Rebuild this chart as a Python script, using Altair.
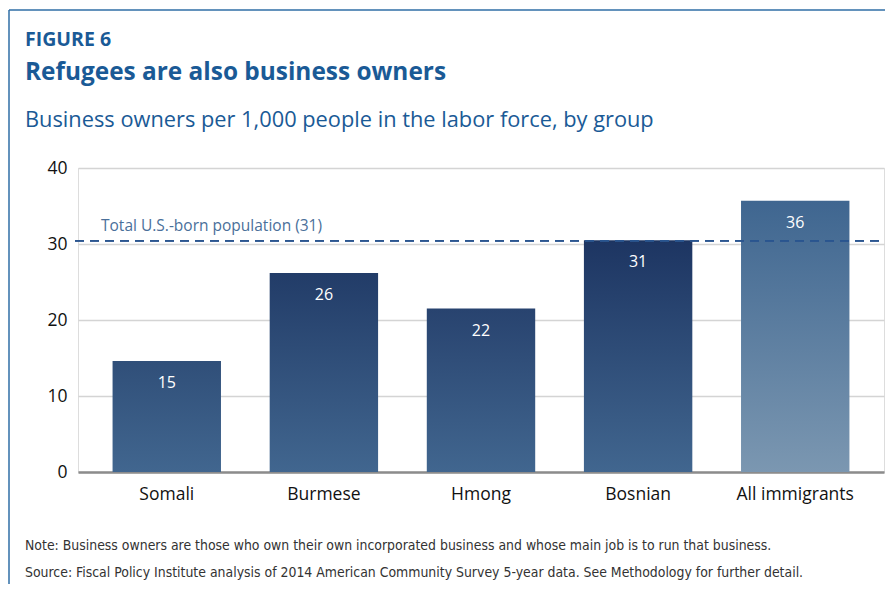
import altair as alt
import pandas as pd

# ---- data ----
groups = ["Somali", "Burmese", "Hmong", "Bosnian", "All immigrants"]
values = [14.6, 26.2, 21.5, 30.5, 35.7]
value_labels = ["15", "26", "22", "31", "36"]
us_born_value = 30.4
us_born_label = "Total U.S.-born population (31)"
y_ticks = [0, 10, 20, 30, 40]

fig_label = "FIGURE 6"
title = "Refugees are also business owners"
subtitle = "Business owners per 1,000 people in the labor force, by group"
notes = [
    "Note: Business owners are those who own their own incorporated business and whose main job is to run that business.",
    "Source: Fiscal Policy Institute analysis of 2014 American Community Survey 5-year data. See Methodology for further detail.",
]

# ---- styles ----
FONT = "Open Sans"
NOTE_FONT = "Liberation Sans Narrow, DejaVu Sans Condensed"
BLUE = "#1a5a96"
W, H = 806, 304


def lerp_hex(c1, c2, t):
    a = [int(c1[i:i + 2], 16) for i in (1, 3, 5)]
    b = [int(c2[i:i + 2], 16) for i in (1, 3, 5)]
    return "#" + "".join(f"{round(x + (y - x) * t):02x}" for x, y in zip(a, b))


REF_BOTTOM, REF_TOP, REF_TOP_VAL = "#41668f", "#1d3562", 30.5

df = pd.DataFrame({"group": groups, "value": values, "label": value_labels})

xscale = alt.Scale(domain=groups, paddingInner=0.31, paddingOuter=0.22)
yscale = alt.Scale(domain=[0, 40], nice=False)

xax = alt.Axis(title=None, labelFont=FONT, labelFontSize=17.5, labelColor="#111111",
               labelPadding=13, ticks=False, domainColor="#8c8c8c", domainWidth=2.5,
               labelAngle=0, grid=False)
yax = alt.Axis(title=None, values=y_ticks, labelFont=FONT, labelFontSize=17.5,
               labelColor="#111111", labelPadding=11, ticks=False, domain=False,
               gridColor="#d4d4d4", gridWidth=1.3)

X = alt.X("group:N", scale=xscale, axis=xax, sort=groups)
Y = alt.Y("value:Q", scale=yscale, axis=yax)

layers = []
for i, g in enumerate(groups):
    if g == "All immigrants":
        top, bottom = "#3f6690", "#7b97b1"
    else:
        top = lerp_hex(REF_BOTTOM, REF_TOP, min(values[i] / REF_TOP_VAL, 1.0))
        bottom = REF_BOTTOM
    grad = alt.LinearGradient(
        gradient="linear", x1=0, y1=0, x2=0, y2=1,
        stops=[alt.GradientStop(color=top, offset=0),
               alt.GradientStop(color=bottom, offset=1)],
    )
    layers.append(
        alt.Chart(df).transform_filter(alt.datum.group == g).mark_bar(color=grad).encode(x=X, y=Y)
    )

value_text = alt.Chart(df).mark_text(
    font=FONT, fontSize=16, color="white", baseline="middle", dy=22
).encode(x=X, y=Y, text="label:N")

ref_rule = alt.Chart(df).mark_rule(
    color="#2a5590", opacity=0.8, strokeDash=[9, 6], strokeWidth=1.3
).encode(
    x=alt.value(-3), x2=alt.value(W + 2), y=alt.Y(datum=us_born_value, scale=yscale, axis=yax)
)

ref_text = alt.Chart(pd.DataFrame({"t": [us_born_label]})).mark_text(
    font=FONT, fontSize=15.5, color="#4a6f9a", align="left", baseline="alphabetic", dy=-10
).encode(x=alt.value(23), y=alt.Y(datum=us_born_value, scale=yscale, axis=yax), text="t:N")


def txt(t, x, y, size, weight="normal", color=BLUE, font=FONT):
    return alt.Chart(pd.DataFrame({"t": [t]})).mark_text(
        font=font, fontSize=size, fontWeight=weight, color=color,
        align="left", baseline="alphabetic"
    ).encode(x=alt.value(x), y=alt.value(y), text="t:N")


texts = [
    txt(fig_label, -53, -122, 19.5, "bold"),
    txt(title, -53, -88, 24.4, "bold"),
    txt(subtitle, -53, -41, 21.8),
    txt(notes[0], -53, 382, 13.9, color="#333333", font=NOTE_FONT),
    txt(notes[1], -53, 409, 13.9, color="#333333", font=NOTE_FONT),
]

frame_color = "#2f6ea6"
frame_top = alt.Chart(pd.DataFrame({"a": [0]})).mark_rule(color=frame_color, strokeWidth=1.5).encode(
    x=alt.value(-69), x2=alt.value(W + 20), y=alt.value(-158)
)
frame_left = alt.Chart(pd.DataFrame({"a": [0]})).mark_rule(color=frame_color, strokeWidth=1.5).encode(
    x=alt.value(-69), y=alt.value(-158), y2=alt.value(H + 140)
)

chart = alt.layer(
    *layers, ref_rule, value_text, ref_text, *texts, frame_top, frame_left
).properties(
    width=W, height=H,
    autosize=alt.AutoSizeParams(type="none"),
    padding={"left": 70, "top": 160, "right": 1, "bottom": 112},
).configure_view(strokeWidth=0).configure(background="white")

chart.save("out.html", embed_options={"renderer": "svg", "actions": False})
